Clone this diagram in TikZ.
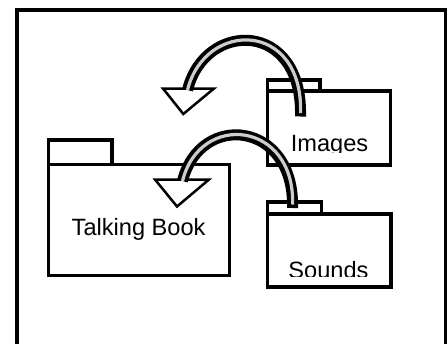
\documentclass[tikz,border=0pt]{standalone}
\usepackage{fontspec}
\setmainfont{Liberation Sans}
\tikzset{
  folder/.style={draw, fill=white, line width=3.5pt, inner sep=0pt, outer sep=0pt, rectangle},
  foldertext/.style={anchor=base, inner sep=0pt, font=\fontsize{23.6}{28}\selectfont},
  headtri/.style={draw, fill=white, line width=2.5pt, line join=miter},
  shaftout/.style={draw=black, line width=11pt, line cap=butt},
  shaftin/.style={draw=gray!40, line width=3.2pt, line cap=butt},
  frameline/.style={draw=black, line width=4pt}
}
\begin{document}
\begin{tikzpicture}[x=1pt, y=-1pt]
\useasboundingbox (0,0) rectangle (447,343);
\clip (0,0) rectangle (447,343);
\fill[white] (0,0) rectangle (447,343);
% outer frame
\draw[frameline] (17,360) -- (17,10) -- (446,10) -- (446,360);
% Talking Book folder
\node[folder, minimum width=63.3pt, minimum height=24.5pt] (tbtab) at (80.35,152.25) {};
\node[folder, minimum width=180.8pt, minimum height=111pt] (tb) at (139.1,220) {};
\node[foldertext] (tbtext) at (138.6,235) {Talking Book};
% Images folder
\node[folder, minimum width=52.5pt, minimum height=11pt] (imtab) at (293.75,85.5) {};
\node[folder, minimum width=123pt, minimum height=74pt] (im) at (329,128) {};
\begin{scope}
  \clip (270,95) rectangle (388,152.5);
  \node[foldertext] (imtext) at (329.5,151.5) {Images};
\end{scope}
% Sounds folder
\node[folder, minimum width=54pt, minimum height=12pt] (sotab) at (294.5,208) {};
\node[folder, minimum width=123.5pt, minimum height=73pt] (so) at (329.25,250.5) {};
\begin{scope}
  \clip (270,218) rectangle (388,276);
  \node[foldertext] (sotext) at (328.5,278.5) {Sounds};
\end{scope}
% arrow 1: from Images
\coordinate (a1s) at (300.5,116.5);
\coordinate (a1e) at (187.5,90);
\draw[headtri] (163,88.5) -- (214,88.5) -- (183.3,114) -- cycle;
\draw[shaftout] (a1s) .. controls (303,19.8) and (205,19.8) .. (a1e);
\draw[shaftin, shorten <=3.5pt] (a1s) .. controls (303,19.8) and (205,19.8) .. (a1e);
% arrow 2: from Sounds
\coordinate (a2s) at (292.5,208);
\coordinate (a2e) at (182.5,181);
\draw[headtri] (155,179.5) -- (209,179.5) -- (177,206.5) -- cycle;
\draw[shaftout] (a2s) .. controls (295,121) and (200,111) .. (a2e);
\draw[shaftin, shorten <=3.5pt] (a2s) .. controls (295,121) and (200,111) .. (a2e);
\end{tikzpicture}
\end{document}
